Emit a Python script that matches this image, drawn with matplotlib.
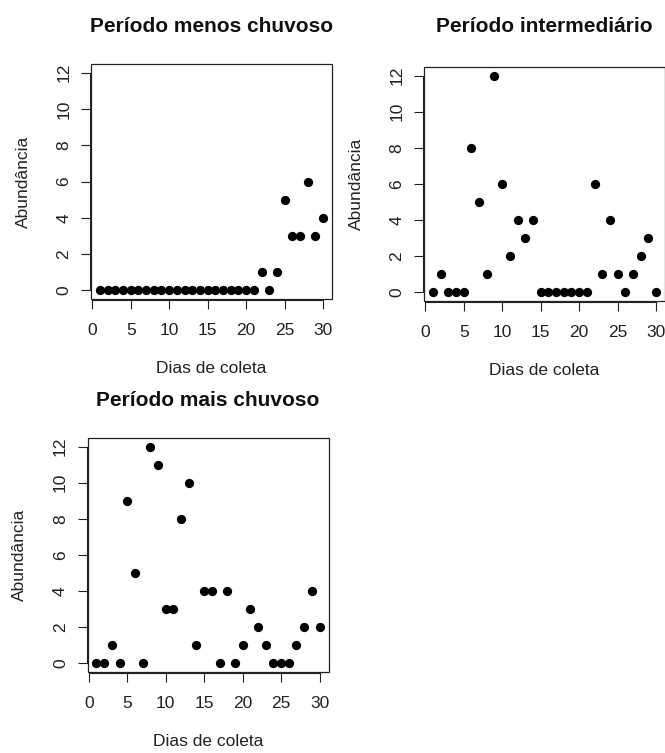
import matplotlib
matplotlib.use("Agg")
import matplotlib.pyplot as plt
from matplotlib.patches import Rectangle

plt.rcParams['font.family'] = ['Liberation Sans', 'DejaVu Sans']

dias = list(range(1, 31))

menos_chuvoso = [0, 0, 0, 0, 0, 0, 0, 0, 0, 0,
                 0, 0, 0, 0, 0, 0, 0, 0, 0, 0,
                 0, 1, 0, 1, 5, 3, 3, 6, 3, 4]
intermediario = [0, 1, 0, 0, 0, 8, 5, 1, 12, 6,
                 2, 4, 3, 4, 0, 0, 0, 0, 0, 0,
                 0, 6, 1, 4, 1, 0, 1, 2, 3, 0]
mais_chuvoso = [0, 0, 1, 0, 9, 5, 0, 12, 11, 3,
                3, 8, 10, 1, 4, 4, 0, 4, 0, 1,
                3, 2, 1, 0, 0, 0, 1, 2, 4, 2]

titulos = ["Período menos chuvoso", "Período intermediário", "Período mais chuvoso"]
series = [menos_chuvoso, intermediario, mais_chuvoso]

W, H = 665, 753
# axes boxes in pixels: left, top, right, bottom
boxes = [(91, 64, 332, 299), (424, 67, 665, 301), (87.5, 438, 328.5, 672)]
title_pads = [23, 25.5, 23]

fig = plt.figure(figsize=(W / 100, H / 100), dpi=100, facecolor='white')
cor = '#222222'

for (l, t, r, b), titulo, vals, tpad in zip(boxes, titulos, series, title_pads):
    w, h = r - l, b - t
    ax = fig.add_axes([l / W, 1 - b / H, w / W, h / H])
    ax.scatter(dias, vals, s=32, color='black', zorder=3, clip_on=False)
    ax.set_xlim(-0.16, 31.16)
    ax.set_ylim(-0.48, 12.48)
    ax.set_xticks(range(0, 31, 5))
    ax.set_yticks(range(0, 13, 2))
    # R-style axes: lines only over tick range, plus a full box
    for s in ['top', 'right']:
        ax.spines[s].set_visible(False)
    ax.spines['bottom'].set_position(('outward', 0.5))
    ax.spines['left'].set_position(('outward', 0.5))
    ax.spines['bottom'].set_bounds(0, 30)
    ax.spines['left'].set_bounds(0, 12)
    for s in ['bottom', 'left']:
        ax.spines[s].set_color(cor)
        ax.spines[s].set_linewidth(0.8)
    ax.add_patch(Rectangle((0, 0), 1, 1, transform=ax.transAxes, fill=False,
                           edgecolor=cor, linewidth=0.9, clip_on=False, zorder=4))
    ax.tick_params(length=6.5, width=0.8, color=cor, labelsize=12.5, labelcolor=cor)
    ax.tick_params(axis='x', pad=10)
    ax.tick_params(axis='y', pad=7)
    for lab in ax.get_yticklabels():
        lab.set_rotation(90)
        lab.set_va('center')
    ax.set_title(titulo, fontsize=15, fontweight='bold', pad=tpad, color='#111111')
    ax.set_xlabel("Dias de coleta", fontsize=12.5, color=cor)
    ax.set_ylabel("Abundância", fontsize=12.5, color=cor)
    ax.xaxis.set_label_coords(0.5, -62 / h)
    ax.yaxis.set_label_coords(-68 / w, 0.5)
    ax.yaxis.label.set_va('center')

fig.savefig('out.png', dpi=100, facecolor='white')
